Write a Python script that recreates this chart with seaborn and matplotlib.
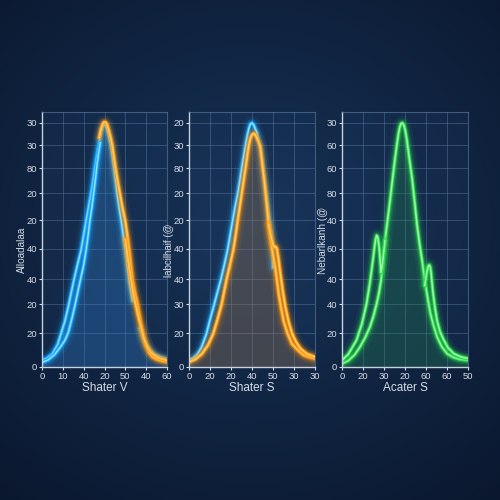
import numpy as np
import pandas as pd
import matplotlib
matplotlib.use("Agg")
import matplotlib.pyplot as plt
import seaborn as sns

# ---------------- data (y in % of axis height, x in tick units) ----------
p1_blue_a_x = [0, 0.25, 0.5, 0.75, 0.91, 1.1, 1.26, 1.4, 1.54, 1.7, 1.88, 2.0, 2.12, 2.24, 2.35, 2.45, 2.53, 2.63, 2.72, 2.8, 2.87, 2.94, 3.0, 3.07, 3.14, 3.22, 3.3, 3.38, 3.45, 3.53, 3.6, 3.7, 3.8, 3.9, 4.0, 4.09, 4.18, 4.26, 4.34]
p1_blue_a_y = [2.6, 3.5, 5.2, 8.8, 13, 18, 23.5, 29, 34.4, 40, 46, 51.7, 57.5, 63, 68, 73, 78, 83, 87, 90.5, 93, 94.7, 95, 94.5, 92.5, 90, 87, 82.5, 78, 73, 68, 62.5, 57.5, 51.7, 46, 40, 34, 30, 26]
p1_blue_b_x = [0, 0.3, 0.6, 0.9, 1.1, 1.26, 1.42, 1.59, 1.72, 1.85, 2.0, 2.12, 2.22, 2.3, 2.4, 2.48, 2.57, 2.65, 2.73, 2.8]
p1_blue_b_y = [1.8, 2.8, 4.8, 8, 10.5, 13.5, 18.5, 24.5, 29.5, 34.4, 40, 46, 52, 57.5, 63, 68, 74, 80, 84.5, 88]
p1_blue_c_x = [4.7, 4.85, 5.0, 5.2, 5.4, 5.7, 6.0]
p1_blue_c_y = [15, 11.5, 9, 6.5, 5, 3.8, 3]
p1_orange_a_x = [2.75, 2.82, 2.9, 2.97, 3.05, 3.12, 3.2, 3.28, 3.37, 3.45, 3.53, 3.63, 3.74, 3.86, 3.99, 4.09, 4.18, 4.26, 4.34, 4.46, 4.59, 4.71, 4.83, 4.98, 5.15, 5.3, 5.5, 5.75, 6.0]
p1_orange_a_y = [90, 93, 95, 96, 96, 95.2, 93, 90.5, 87, 82.5, 78, 73, 68, 62.5, 57.5, 52, 46, 40, 34, 29, 24.5, 18.5, 13, 8.5, 5.5, 4, 3, 2.4, 2]
p1_orange_b_x = [4.0, 4.1, 4.2, 4.3, 4.4, 4.52, 4.65, 4.78, 4.9, 5.05, 5.2, 5.4, 5.6, 5.8, 6.0]
p1_orange_b_y = [50, 44, 38, 33, 28, 23.5, 19, 15, 11, 8, 6, 4.5, 3.5, 3, 2.5]

p2_blue_x = [0, 0.2, 0.4, 0.6, 0.83, 1.0, 1.2, 1.36, 1.52, 1.68, 1.84, 1.96, 2.08, 2.2, 2.32, 2.42, 2.51, 2.6, 2.69, 2.77, 2.85, 2.92, 3.0, 3.08, 3.15, 3.23, 3.31, 3.39, 3.47, 3.57, 3.68, 3.78, 3.87, 3.93, 3.98, 4.0]
p2_blue_y = [2.6, 3.5, 5, 7.8, 13, 18.5, 24.5, 29.5, 34.4, 40, 46, 51.7, 57.5, 63, 68, 73, 78, 82.5, 87, 90.5, 93.5, 95.3, 95.7, 95, 93.5, 92, 89, 86.5, 82, 75, 68, 61, 55, 51, 47, 39]
p2_orange_a_x = [0, 0.3, 0.6, 0.9, 1.15, 1.35, 1.55, 1.67, 1.79, 1.95, 2.11, 2.22, 2.32, 2.42, 2.51, 2.6, 2.69, 2.77, 2.85, 2.92, 2.99, 3.07, 3.14, 3.22, 3.3, 3.39, 3.5, 3.6, 3.7, 3.79, 3.87, 3.95, 4.03, 4.11, 4.19, 4.27, 4.39, 4.51, 4.7, 4.91, 5.2, 5.47, 5.75, 6.0]
p2_orange_a_y = [2, 3, 5, 8.5, 13, 18.5, 24.5, 29.5, 34.4, 40, 46, 51.7, 57.5, 63, 68, 73, 78, 82.5, 87, 89.5, 91, 91.6, 91.2, 90, 88.5, 86.5, 79, 72, 64, 56, 51, 46.4, 42.5, 39, 34, 28.8, 23, 18, 13, 9, 6.5, 4.6, 3.8, 3.3]
p2_orange_b_x = [3.79, 3.87, 3.95, 4.02, 4.08, 4.13, 4.18, 4.25, 4.35, 4.47, 4.59, 4.75, 4.91, 5.1, 5.31, 5.6, 6.0]
p2_orange_b_y = [56, 52.5, 49.5, 47.5, 47, 47.2, 46.5, 43, 36.6, 29.5, 23.5, 17.5, 13, 9.8, 7.2, 5.2, 3.9]

p3_green_a_x = [0, 0.3, 0.6, 0.85, 1.1, 1.33, 1.5, 1.65, 1.76, 1.86, 1.96, 2.05, 2.17, 2.29, 2.41, 2.53, 2.61, 2.69, 2.75, 2.81, 2.88, 2.95, 3.02, 3.09, 3.2, 3.33, 3.45, 3.57, 3.69, 3.81, 3.89, 3.97, 4.09, 4.21, 4.37, 4.53, 4.75, 5.01, 5.3, 5.6, 6.0]
p3_green_a_y = [1.3, 2.5, 4.8, 7.8, 11.5, 15.7, 20, 24.8, 29, 34, 42, 49.7, 57.5, 65.4, 74, 82, 87, 91.5, 94, 95.5, 95.7, 94.8, 92.5, 89, 82, 74.5, 65.5, 56, 48.5, 42, 37, 32.7, 26.5, 21, 16, 11.8, 8, 5.2, 3.8, 3, 2.6]
p3_green_b_x = [0, 0.3, 0.69, 0.95, 1.17, 1.33, 1.49, 1.55, 1.6, 1.65, 1.7, 1.74, 1.78, 1.82, 1.86, 1.92, 1.98, 2.05]
p3_green_b_y = [2.6, 5, 10.5, 17, 24.8, 33, 43, 47, 50, 51.6, 51, 49, 46, 41.5, 37, 40, 44.5, 49.7]
p3_green_c_x = [3.94, 4.0, 4.06, 4.11, 4.16, 4.2, 4.24, 4.28, 4.32, 4.42, 4.53, 4.68, 4.85, 5.05, 5.33, 5.65, 6.0]
p3_green_c_y = [32, 35, 38, 39.6, 40, 39.2, 37, 33.5, 30, 23.5, 18, 13.5, 10.5, 7.5, 5.2, 4, 3.3]

ytick_pos = [0, 13.3, 24.7, 34.5, 46.3, 57.6, 68.2, 78, 87, 95.7]
p1_ytick_labels = ["0", "20", "20", "40", "40", "20", "20", "80", "30", "30"]
p2_ytick_labels = ["0", "20", "30", "40", "40", "20", "20", "80", "30", "20"]
p3_ytick_labels = ["0", "20", "40", "40", "60", "40", "80", "60", "60", "30"]
xtick_pos = [0, 1, 2, 3, 4, 5, 6]
p1_xtick_labels = ["0", "10", "40", "20", "50", "40", "60"]
p2_xtick_labels = ["0", "20", "20", "40", "50", "30", "30"]
p3_xtick_labels = ["0", "20", "30", "20", "60", "60", "50"]

p1_xlabel, p2_xlabel, p3_xlabel = "Shater V", "Shater S", "Acater S"
p1_ylabel, p2_ylabel, p3_ylabel = "Alloadalaa", "labcilhaif (@", "Nebarlkanh (@"

# ---------------- styling ----------------
plt.rcParams["font.family"] = ["Liberation Sans", "DejaVu Sans"]
BLUE, BLUE_CORE = "#1aa8ff", "#a8ecff"
ORANGE, ORANGE_CORE = "#ff9a10", "#ffd680"
GREEN, GREEN_CORE = "#2fd84f", "#b0ffb8"
TXT = "#d5dce6"
GRID = "#5d7ea8"

fig = plt.figure(figsize=(5, 5), dpi=100)

# background gradient
bg = fig.add_axes([0, 0, 1, 1], zorder=-10)
yy, xx = np.mgrid[0:1:300j, 0:1:300j]
r = np.sqrt((xx - 0.5) ** 2 + ((yy - 0.45) * 1.1) ** 2)
t = np.clip(r / 0.8, 0, 1)[..., None]
c_in = np.array([0.09, 0.2, 0.34])
c_out = np.array([0.04, 0.09, 0.18])
bg.imshow(c_in * (1 - t) + c_out * t, extent=[0, 1, 0, 1], aspect="auto")
bg.axis("off")


def glow(ax, x, y, color, core):
    df = pd.DataFrame({"x": x, "y": y})
    for lw, a in [(10, 0.07), (6.5, 0.14), (4.2, 0.32)]:
        sns.lineplot(data=df, x="x", y="y", ax=ax, sort=False, estimator=None,
                     color=color, lw=lw, alpha=a, solid_capstyle="round",
                     solid_joinstyle="round")
    sns.lineplot(data=df, x="x", y="y", ax=ax, sort=False, estimator=None,
                 color=color, lw=2.4, alpha=1, solid_joinstyle="round")
    sns.lineplot(data=df, x="x", y="y", ax=ax, sort=False, estimator=None,
                 color=core, lw=1.0, alpha=0.9, solid_joinstyle="round")


def style(ax, xt, yt, xl):
    ax.set_facecolor((0.12, 0.25, 0.42, 0.22))
    ax.set_xlim(0, 6)
    ax.set_ylim(0, 100)
    ax.set_xticks(xtick_pos)
    ax.set_xticklabels(xt)
    ax.set_yticks(ytick_pos)
    ax.set_yticklabels(yt)
    ax.grid(True, color=GRID, alpha=0.45, lw=0.7)
    ax.set_axisbelow(True)
    ax.tick_params(colors=TXT, labelsize=6.8, length=2.5, width=0.8, pad=1)
    for s in ["left", "bottom"]:
        ax.spines[s].set_color("#c8d2de")
        ax.spines[s].set_linewidth(1.0)
    for s in ["top", "right"]:
        ax.spines[s].set_color(GRID)
        ax.spines[s].set_alpha(0.6)
        ax.spines[s].set_linewidth(0.8)
    ax.set_xlabel(xl, color=TXT, fontsize=8.5, labelpad=1)
    ax.set_ylabel("")


bottom, height = 0.266, 0.51
ax1 = fig.add_axes([0.084, bottom, 0.25, height])
ax2 = fig.add_axes([0.378, bottom, 0.252, height])
ax3 = fig.add_axes([0.684, bottom, 0.252, height])

# panel 1: area under the blue rise and the orange fall
fill1_x = [v for v in p1_blue_a_x if v < 3.0] + [v for v in p1_orange_a_x if v >= 3.0]
fill1_y = [b for v, b in zip(p1_blue_a_x, p1_blue_a_y) if v < 3.0] + \
          [o for v, o in zip(p1_orange_a_x, p1_orange_a_y) if v >= 3.0]
ax1.fill_between(fill1_x, fill1_y, 0, color="#2f78c0", alpha=0.35, lw=0)
glow(ax1, p1_blue_a_x, p1_blue_a_y, BLUE, BLUE_CORE)
glow(ax1, p1_blue_b_x, p1_blue_b_y, BLUE, BLUE_CORE)
glow(ax1, p1_blue_c_x, p1_blue_c_y, BLUE, BLUE_CORE)
glow(ax1, p1_orange_a_x, p1_orange_a_y, ORANGE, ORANGE_CORE)
glow(ax1, p1_orange_b_x, p1_orange_b_y, ORANGE, ORANGE_CORE)
style(ax1, p1_xtick_labels, p1_ytick_labels, p1_xlabel)

# panel 2
ax2.fill_between(p2_orange_a_x, p2_orange_a_y, 0, color="#9a7550", alpha=0.35, lw=0)
glow(ax2, p2_blue_x, p2_blue_y, BLUE, BLUE_CORE)
glow(ax2, p2_orange_a_x, p2_orange_a_y, ORANGE, ORANGE_CORE)
glow(ax2, p2_orange_b_x, p2_orange_b_y, ORANGE, ORANGE_CORE)
style(ax2, p2_xtick_labels, p2_ytick_labels, p2_xlabel)

# panel 3
ax3.fill_between(p3_green_a_x, p3_green_a_y, 0, color="#1f8a4a", alpha=0.28, lw=0)
glow(ax3, p3_green_a_x, p3_green_a_y, GREEN, GREEN_CORE)
glow(ax3, p3_green_b_x, p3_green_b_y, GREEN, GREEN_CORE)
glow(ax3, p3_green_c_x, p3_green_c_y, GREEN, GREEN_CORE)
style(ax3, p3_xtick_labels, p3_ytick_labels, p3_xlabel)

fig.text(0.044, 0.5, p1_ylabel, rotation=90, color=TXT, fontsize=7.2, ha="center", va="center")
fig.text(0.3385, 0.5, p2_ylabel, rotation=90, color=TXT, fontsize=7.0, ha="center", va="center")
fig.text(0.645, 0.52, p3_ylabel, rotation=90, color=TXT, fontsize=7.2, ha="center", va="center")

fig.savefig("out.png", dpi=100)
